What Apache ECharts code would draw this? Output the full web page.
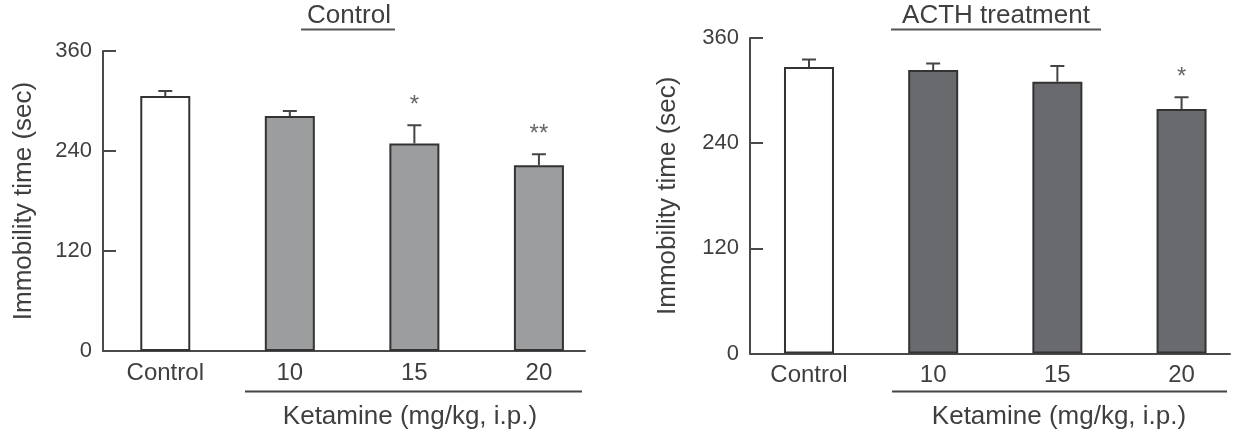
<!DOCTYPE html>
<html>
<head>
<meta charset="utf-8">
<script src="https://cdn.jsdelivr.net/npm/echarts@6/dist/echarts.min.js"></script>
<style>
html,body{margin:0;padding:0;background:#fff;}
#chart{width:1251px;height:432px;}
</style>
</head>
<body>
<div id="chart"></div>
<script>
// ---- data ----
const categories = ['Control', '10', '15', '20'];
const yTickValues = [0, 120, 240, 360];
const panelTitles = ['Control', 'ACTH treatment'];
const xGroupLabel = 'Ketamine (mg/kg, i.p.)';
const yLabel = 'Immobility time (sec)';

const controlMeans = [306, 282, 249, 223];
const controlSE    = [6, 6, 22, 13];
const controlSig   = ['', '', '*', '**'];

const acthMeans = [327, 323.5, 310, 279];
const acthSE    = [8.5, 7.5, 18, 13.5];
const acthSig   = ['', '', '', '*'];

// ---- styles ----
const FONT = '"Liberation Sans", Arial, sans-serif';
const TXT = '#3f3f3f';
const AX = '#4a4a4a';

const chart = echarts.init(document.getElementById('chart'), null, {renderer: 'canvas'});

function xAxisFor(gi, min, max) {
  return {
    gridIndex: gi, type: 'value', min: min, max: max,
    axisLine: {show: true, onZero: false, lineStyle: {color: AX, width: 2}},
    axisTick: {show: false},
    splitLine: {show: false},
    axisLabel: {
      customValues: [0, 1, 2, 3],
      formatter: v => categories[Math.round(v)],
      color: TXT, fontFamily: FONT, fontSize: 24, margin: 10
    }
  };
}
function yAxisFor(gi, gap) {
  return {
    gridIndex: gi, type: 'value',
    min: yTickValues[0], max: yTickValues[yTickValues.length - 1], interval: yTickValues[1] - yTickValues[0],
    axisLine: {show: true, onZero: false, lineStyle: {color: AX, width: 2}},
    axisTick: {show: true, inside: true, length: 13, lineStyle: {color: AX, width: 2}},
    splitLine: {show: false},
    axisLabel: {color: TXT, fontFamily: FONT, fontSize: 22, margin: 11},
    name: yLabel, nameLocation: 'middle', nameRotate: 90, nameGap: gap,
    nameTextStyle: {color: TXT, fontFamily: FONT, fontSize: 26}
  };
}
function barSeries(gi, means, fill) {
  return {
    type: 'bar', xAxisIndex: gi, yAxisIndex: gi, barWidth: 50,
    data: means.map((m, i) => ({
      value: [i, m],
      itemStyle: {color: i === 0 ? '#ffffff' : fill, borderColor: '#333', borderWidth: 2}
    })),
    z: 2
  };
}
function errSeries(gi, means, se, sig) {
  return {
    type: 'custom', xAxisIndex: gi, yAxisIndex: gi, z: 3, clip: false,
    data: means.map((m, i) => [i, m, se[i]]),
    renderItem: function (params, api) {
      const x = api.value(0), m = api.value(1), e = api.value(2);
      const b = api.coord([x, m]).slice();
      const t = api.coord([x, m + e]).slice();
      const children = [{
        type: 'polyline',
        shape: {points: [[b[0], b[1]], [t[0], t[1]], [t[0] - 7, t[1]], [t[0] + 7, t[1]]]},
        style: {stroke: '#444', lineWidth: 2, fill: null}
      }];
      const s = sig[params.dataIndex];
      if (s) {
        children.push({
          type: 'text', x: t[0], y: t[1] - 8,
          style: {text: s, fill: '#666', font: '24px ' + FONT, textAlign: 'center', textVerticalAlign: 'bottom'}
        });
      }
      return {type: 'group', children: children};
    }
  };
}

const option = {
  backgroundColor: '#ffffff',
  animation: false,
  title: [
    {text: panelTitles[0], left: 344, top: -2, textAlign: 'center',
     textStyle: {color: TXT, fontFamily: FONT, fontSize: 26, fontWeight: 'normal'}},
    {text: panelTitles[1], left: 991, top: -2, textAlign: 'center',
     textStyle: {color: TXT, fontFamily: FONT, fontSize: 26, fontWeight: 'normal'}}
  ],
  grid: [
    {left: 103, right: 666, top: 51, bottom: 81},
    {left: 750, right: 21, top: 38, bottom: 78.5}
  ],
  xAxis: [xAxisFor(0, -0.5, 3.37), xAxisFor(1, -0.475, 3.39)],
  yAxis: [yAxisFor(0, 66), yAxisFor(1, 69)],
  series: [
    barSeries(0, controlMeans, '#9c9d9f'),
    errSeries(0, controlMeans, controlSE, controlSig),
    barSeries(1, acthMeans, '#696a6e'),
    errSeries(1, acthMeans, acthSE, acthSig)
  ],
  graphic: [
    {type: 'line', shape: {x1: 301, y1: 29.5, x2: 395, y2: 29.5}, style: {stroke: '#555', lineWidth: 2}},
    {type: 'line', shape: {x1: 891, y1: 29.5, x2: 1101, y2: 29.5}, style: {stroke: '#555', lineWidth: 2}},
    {type: 'line', shape: {x1: 245, y1: 391.5, x2: 582, y2: 391.5}, style: {stroke: '#444', lineWidth: 2}},
    {type: 'line', shape: {x1: 892, y1: 391.5, x2: 1227, y2: 391.5}, style: {stroke: '#444', lineWidth: 2}},
    {type: 'text', x: 410, y: 417, style: {text: xGroupLabel, fill: TXT, font: '26px ' + FONT, textAlign: 'center', textVerticalAlign: 'middle'}},
    {type: 'text', x: 1059, y: 417, style: {text: xGroupLabel, fill: TXT, font: '26px ' + FONT, textAlign: 'center', textVerticalAlign: 'middle'}}
  ]
};
chart.setOption(option);
</script>
</body>
</html>
